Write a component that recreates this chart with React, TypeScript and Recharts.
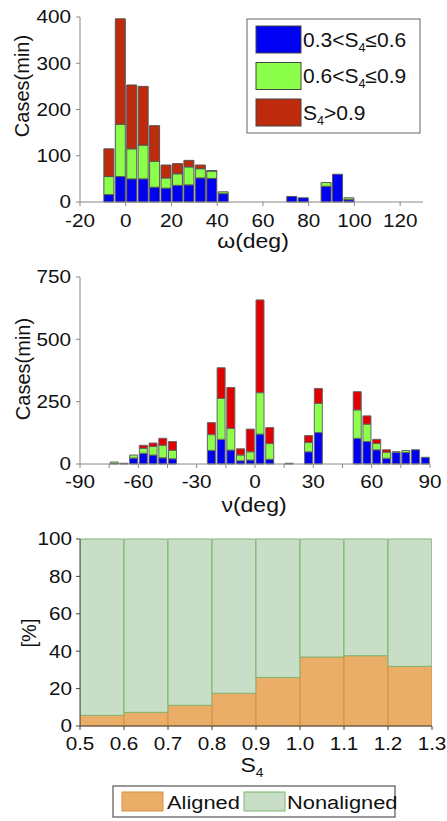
import React from 'react';
import { BarChart, Bar, XAxis, YAxis } from 'recharts';

const FONT = '"Liberation Sans", Arial, Helvetica, sans-serif';
const SX = 1.15;
const TICK_FS = 18;

// ---------- Top chart: omega ----------
const omegaCenters = [-7.5, -2.5, 2.5, 7.5, 12.5, 17.5, 22.5, 27.5, 32.5, 37.5, 42.5, 72.5, 77.5, 87.5, 92.5, 97.5];
const omegaLow = [16, 55, 50, 50, 32, 30, 36, 37, 52, 51, 18, 12, 9, 34, 60, 5];
const omegaMid = [39, 113, 65, 73, 56, 22, 25, 39, 20, 16, 4, 0, 0, 8, 0, 4];
const omegaHigh = [60, 228, 138, 127, 77, 28, 22, 14, 8, 1, 0, 0, 0, 0, 0, 0];
const omegaTicks = [-20, 0, 20, 40, 60, 80, 100, 120];
const omegaCountTicks = [0, 100, 200, 300, 400];

// ---------- Middle chart: nu ----------
const nuCenters = [-72.5, -67.5, -62.5, -57.5, -52.5, -47.5, -42.5, -22.5, -17.5, -12.5, -7.5, -2.5, 2.5, 7.5, 17.5, 27.5, 32.5, 52.5, 57.5, 62.5, 67.5, 72.5, 77.5, 82.5, 87.5];
const nuLow = [2, 2, 24, 43, 36, 25, 21, 55, 99, 56, 13, 16, 120, 19, 2, 49, 126, 103, 90, 57, 23, 47, 46, 57, 27];
const nuMid = [6, 1, 12, 20, 34, 50, 34, 63, 164, 87, 23, 33, 166, 63, 1, 37, 117, 114, 70, 25, 24, 2, 8, 0, 0];
const nuHigh = [0, 0, 0, 12, 14, 28, 35, 48, 123, 164, 25, 91, 372, 64, 0, 28, 60, 73, 33, 17, 10, 0, 0, 0, 0];
const nuTicks = [-90, -75, -60, -45, -30, -15, 0, 15, 30, 45, 60, 75, 90];
const nuLabelTicks = [-90, -60, -30, 0, 30, 60, 90];
const nuCountTicks = [0, 250, 500, 750];

// ---------- Bottom chart: S4 ----------
const s4Centers = [0.55, 0.65, 0.75, 0.85, 0.95, 1.05, 1.15, 1.25];
const alignedPct = [5.7, 7.3, 11.1, 17.5, 26, 36.9, 37.6, 31.9];
const nonalignedPct = [94.3, 92.7, 88.9, 82.5, 74, 63.1, 62.4, 68.1];
const s4Ticks = [0.5, 0.6, 0.7, 0.8, 0.9, 1.0, 1.1, 1.2, 1.3];
const pctTicks = [0, 20, 40, 60, 80, 100];

const topLegend = [
  { pre: '0.3<S', sub: '4', post: '≤0.6', color: '#0000F2' },
  { pre: '0.6<S', sub: '4', post: '≤0.9', color: '#8CFF4A' },
  { pre: 'S', sub: '4', post: '>0.9', color: '#BE2A0C' },
];
const bottomLegend = [
  { name: 'Aligned', color: '#EBAE68', stroke: '#D8913F' },
  { name: 'Nonaligned', color: '#C9DEC7', stroke: '#7DB870' },
];

const omegaData = omegaCenters.map((x, i) => ({ x, low: omegaLow[i], mid: omegaMid[i], high: omegaHigh[i] }));
const nuData = nuCenters.map((x, i) => ({ x, low: nuLow[i], mid: nuMid[i], high: nuHigh[i] }));
const s4Data = s4Centers.map((x, i) => ({ x, aligned: alignedPct[i], nonaligned: nonalignedPct[i] }));

function XTick(props: any) {
  const { x, payload, labelY, fmt } = props;
  const s = fmt ? fmt(payload.value) : String(payload.value);
  if (!s) return <g />;
  return (
    <g transform={`translate(${x},${labelY}) scale(${SX},1)`}>
      <text x={0} y={0} textAnchor="middle" fontSize={TICK_FS} fontFamily={FONT} fill="#111">{s}</text>
    </g>
  );
}

function YTick(props: any) {
  const { y, payload, endX } = props;
  return (
    <g transform={`translate(${endX},${y + 6.4}) scale(${SX},1)`}>
      <text x={0} y={0} textAnchor="end" fontSize={TICK_FS} fontFamily={FONT} fill="#111">{String(payload.value)}</text>
    </g>
  );
}

export default function App() {
  return (
    <div style={{ position: 'absolute', left: 0, top: 0, width: 447, height: 821, background: '#fff', overflow: 'hidden' }}>
      {/* Chart 1 */}
      <div style={{ position: 'absolute', left: 0, top: 0 }}>
        <BarChart width={447} height={260} data={omegaData} margin={{ top: 17, right: 24, left: 0, bottom: 0 }} barSize={10}>
          <XAxis dataKey="x" type="number" domain={[-20, 130]} ticks={omegaTicks} allowDataOverflow
            height={58} stroke="#888" tickSize={4} interval={0}
            tick={(p: any) => <XTick {...p} labelY={226.5} />} />
          <YAxis type="number" domain={[0, 400]} ticks={omegaCountTicks} width={80} stroke="#888" tickSize={4}
            interval={0} tick={(p: any) => <YTick {...p} endX={71} />} />
          <Bar dataKey="low" stackId="a" fill="#0000F2" stroke="#555" strokeWidth={1} isAnimationActive={false} />
          <Bar dataKey="mid" stackId="a" fill="#8CFF4A" stroke="#555" strokeWidth={1} isAnimationActive={false} />
          <Bar dataKey="high" stackId="a" fill="#BE2A0C" stroke="#555" strokeWidth={1} isAnimationActive={false} />
        </BarChart>
      </div>

      {/* Chart 2 */}
      <div style={{ position: 'absolute', left: 0, top: 260 }}>
        <BarChart width={447} height={260} data={nuData} margin={{ top: 17, right: 17, left: 0, bottom: 0 }} barSize={8}>
          <XAxis dataKey="x" type="number" domain={[-90, 90]} ticks={nuTicks} allowDataOverflow
            height={56} stroke="#888" tickSize={4} interval={0}
            tick={(p: any) => <XTick {...p} labelY={227.5} fmt={(v: number) => (nuLabelTicks.includes(v) ? String(v) : '')} />} />
          <YAxis type="number" domain={[0, 750]} ticks={nuCountTicks} width={80} stroke="#888" tickSize={4}
            interval={0} tick={(p: any) => <YTick {...p} endX={71} />} />
          <Bar dataKey="low" stackId="a" fill="#0000F2" stroke="#666" strokeWidth={1} isAnimationActive={false} />
          <Bar dataKey="mid" stackId="a" fill="#8CFF4A" stroke="#666" strokeWidth={1} isAnimationActive={false} />
          <Bar dataKey="high" stackId="a" fill="#E00000" stroke="#666" strokeWidth={1} isAnimationActive={false} />
        </BarChart>
      </div>

      {/* Chart 3 */}
      <div style={{ position: 'absolute', left: 0, top: 520 }}>
        <BarChart width={447} height={245} data={s4Data} margin={{ top: 19, right: 15, left: 0, bottom: 0 }}
          barSize={43.8} barCategoryGap={0} barGap={0}>
          <XAxis dataKey="x" type="number" domain={[0.5, 1.3]} ticks={s4Ticks} allowDataOverflow
            height={39} stroke="#444" tickSize={4} interval={0}
            tick={(p: any) => <XTick {...p} labelY={229.5} fmt={(v: number) => v.toFixed(1)} />} />
          <XAxis xAxisId="top" orientation="top" dataKey="x" type="number" domain={[0.5, 1.3]} ticks={s4Ticks} allowDataOverflow
            height={0} stroke="#666" tickSize={4} interval={0} tick={false} />
          <YAxis type="number" domain={[0, 100]} ticks={pctTicks} width={80} stroke="#444" tickSize={4}
            interval={0} tick={(p: any) => <YTick {...p} endX={72} />} />
          <YAxis yAxisId="right" orientation="right" type="number" domain={[0, 100]} ticks={pctTicks} width={0}
            stroke="#666" tickSize={4} interval={0} tick={false} />
          <Bar dataKey="aligned" stackId="s" fill={bottomLegend[0].color} stroke={bottomLegend[0].stroke} strokeWidth={1} isAnimationActive={false} />
          <Bar dataKey="nonaligned" stackId="s" fill={bottomLegend[1].color} stroke={bottomLegend[1].stroke} strokeWidth={1} isAnimationActive={false} />
        </BarChart>
      </div>

      {/* Overlay: titles and legends */}
      <svg width={447} height={821} style={{ position: 'absolute', left: 0, top: 0, pointerEvents: 'none' }} fontFamily={FONT}>
        <text transform="translate(22,86) rotate(-90)" textAnchor="middle" dy={7} fontSize={20} fill="#111">Cases(min)</text>
        <text transform="translate(23,369) rotate(-90)" textAnchor="middle" dy={7} fontSize={20} fill="#111">Cases(min)</text>
        <text transform="translate(29,633) rotate(-90)" textAnchor="middle" dy={7} fontSize={20} fill="#111">[%]</text>
        <g transform={`translate(253,248) scale(${SX},1)`}>
          <text textAnchor="middle" fontSize={20} fill="#111">ω(deg)</text>
        </g>
        <g transform={`translate(254,512) scale(${SX},1)`}>
          <text textAnchor="middle" fontSize={20} fill="#111">ν(deg)</text>
        </g>
        <g transform={`translate(252,772) scale(${SX},1)`}>
          <text textAnchor="middle" fontSize={20} fill="#111">S<tspan fontSize={12} dy={5}>4</tspan></text>
        </g>

        {/* top legend */}
        <rect x={247} y={19} width={173} height={114} fill="#fff" stroke="#666" strokeWidth={1} />
        {topLegend.map((e, i) => (
          <g key={i}>
            <rect x={256} y={26 + i * 36.5} width={45} height={27} fill={e.color} stroke="#444" strokeWidth={1} />
            <g transform={`translate(303,${46.5 + i * 36.5}) scale(1.05,1)`}>
              <text fontSize={20} fill="#111">
                {e.pre}<tspan fontSize={12} dy={5}>{e.sub}</tspan><tspan dy={-5}>{e.post}</tspan>
              </text>
            </g>
          </g>
        ))}

        {/* bottom legend */}
        <rect x={113} y={786} width={282} height={31} fill="#fff" stroke="#555" strokeWidth={1.2} />
        <rect x={122} y={792} width={41} height={19} fill={bottomLegend[0].color} stroke={bottomLegend[0].stroke} />
        <g transform={`translate(167,809) scale(${SX},1)`}>
          <text fontSize={19} fill="#111">{bottomLegend[0].name}</text>
        </g>
        <rect x={244} y={792} width={41} height={19} fill={bottomLegend[1].color} stroke={bottomLegend[1].stroke} />
        <g transform={`translate(287,809) scale(${SX},1)`}>
          <text fontSize={19} fill="#111">{bottomLegend[1].name}</text>
        </g>
      </svg>
    </div>
  );
}
